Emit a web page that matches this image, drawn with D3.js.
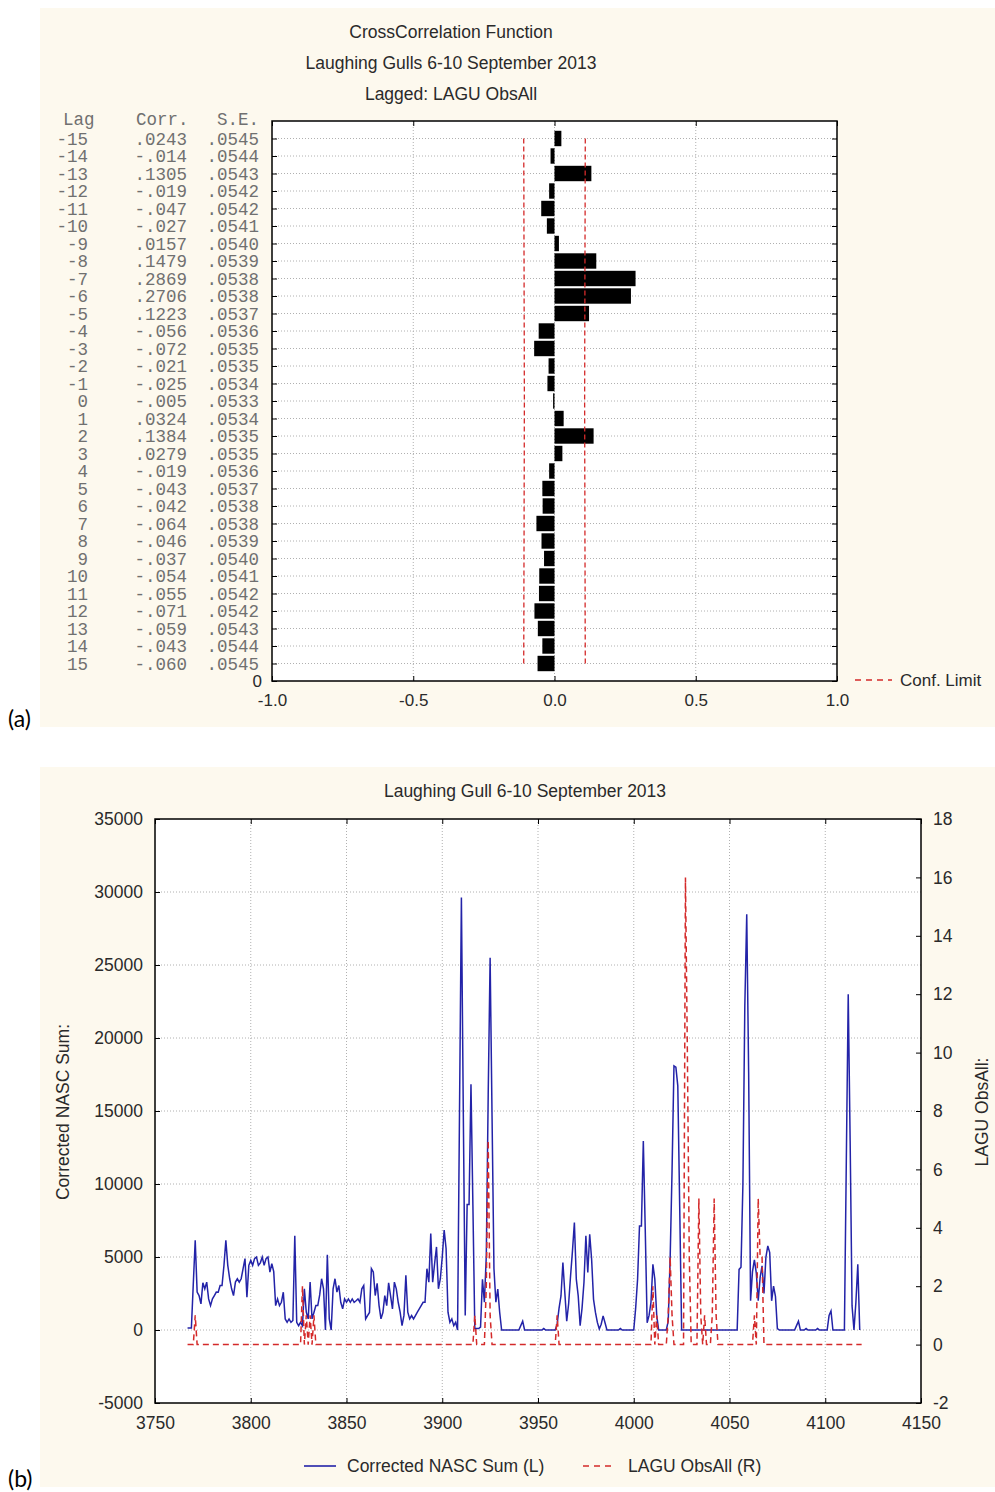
<!DOCTYPE html>
<html>
<head>
<meta charset="utf-8">
<script src="https://cdn.jsdelivr.net/npm/d3@7"></script>
<style>
body { margin: 0; background: #fff; }
svg text { font-family: "Liberation Sans", Arial, sans-serif; fill: #2a2a2a; }
.tbl { font-family: "Liberation Mono", "Courier New", monospace; fill: #707070; }
.tag { font-family: Lato, "Open Sans", sans-serif; fill: #000; }
</style>
</head>
<body>
<div class="canvas"></div>
<script>
// ---- panel (a): cross correlation table ----
const lags = [-15, -14, -13, -12, -11, -10, -9, -8, -7, -6, -5, -4, -3, -2, -1, 0,
    1, 2, 3, 4, 5, 6, 7, 8, 9, 10, 11, 12, 13, 14, 15]
const corr = [0.0243, -0.014, 0.1305, -0.019, -0.047, -0.027, 0.0157, 0.1479, 0.2869, 0.2706,
    0.1223, -0.056, -0.072, -0.021, -0.025, -0.005, 0.0324, 0.1384, 0.0279, -0.019,
    -0.043, -0.042, -0.064, -0.046, -0.037, -0.054, -0.055, -0.071, -0.059, -0.043, -0.060]
const stdErr = [0.0545, 0.0544, 0.0543, 0.0542, 0.0542, 0.0541, 0.0540, 0.0539, 0.0538, 0.0538,
    0.0537, 0.0536, 0.0535, 0.0535, 0.0534, 0.0533, 0.0534, 0.0535, 0.0535, 0.0536,
    0.0537, 0.0538, 0.0538, 0.0539, 0.0540, 0.0541, 0.0542, 0.0542, 0.0543, 0.0544, 0.0545]
const corrTicks = [-1, -0.5, 0, 0.5, 1]

// ---- panel (b): time series ----
const dayTicks = [3750, 3800, 3850, 3900, 3950, 4000, 4050, 4100, 4150]
const nascTicks = [-5000, 0, 5000, 10000, 15000, 20000, 25000, 30000, 35000]
const obsTicks = [-2, 0, 2, 4, 6, 8, 10, 12, 14, 16, 18]

// Corrected NASC Sum, one value per unit starting at 3767
const nascStart = 3767
const nascSum = [
    140, 140, 140,
    3170, 6150, 2600, 2360, 1790, 3230, 2820, 3280, 2130, 1670,      // 3770
    2130, 2360, 2600, 2590, 3050, 3050, 4400, 6150, 4430, 3510,      // 3780
    2820, 2360, 3280, 3510, 3280, 3510, 4200, 4890, 2250, 4430,      // 3790
    4770, 4430, 4890, 5000, 4430, 4600, 5000, 4430, 4890, 5000,      // 3800
    3970, 4540, 4000, 1670, 2130, 1670, 1900, 2590, 760, 530,        // 3810
    760, 530, 650, 6450, 530, 300, 530, 300, 2820, 1220,             // 3820
    760, 3280, 760, 1200, 1670, 1670, 2400, 3510, 2820, 0,           // 3830
    5160, 760, 0, 2820, 3510, 2600, 3050, 1900, 1450, 2130,          // 3840
    1900, 2130, 1900, 2130, 1900, 2000, 2130, 1900, 2820, 3050,      // 3850
    760, 990, 1200, 4200, 3970, 2360, 3200, 1670, 760, 1200,         // 3860
    2360, 1670, 3230, 2360, 1440, 3280, 2820, 1900, 1220, 300,       // 3870
    1000, 3740, 1220, 760, 990, 760, 990, 1220, 1440, 1670,          // 3880
    1900, 1900, 4200, 3280, 6600, 3280, 4540, 5690, 2820, 3510,      // 3890
    5000, 6840, 5580, 1220, 530, 760, 300, 530, 0, 14780,            // 3900
    29620, 14800, 1000, 8600, 8600, 16830, 8600, 100, 100, 100,      // 3910
    200, 3480, 1900, 5080, 16150, 25500, 14660, 4200, 1900, 2800,    // 3920
    1200, 0, 0, 0, 0, 0, 0, 0, 0, 0,                                 // 3930
    0, 300, 600, 0, 0, 0, 0, 0, 0, 0,                                // 3940
    0, 0, 0, 100, 0, 0, 0, 0, 0, 0,                                  // 3950
    400, 1500, 2330, 4620, 2570, 600, 1800, 3700, 5420, 7360,        // 3960
    3480, 2340, 290, 1500, 3250, 6450, 3940, 6560, 4850, 2100,       // 3970
    1200, 520, 70, 400, 970, 500, 0, 0, 0, 0,                        // 3980
    0, 0, 0, 100, 0, 0, 0, 0, 0, 0,                                  // 3990
    0, 1500, 3480, 7130, 7130, 12950, 6900, 500, 1000, 1900,         // 4000
    4500, 3480, 1000, 0, 0, 0, 0, 0, 600, 4850,                      // 4010
    10900, 18090, 18000, 16720, 8400, 0, 0, 0, 0, 0,                 // 4020
    0, 0, 0, 0, 0, 0, 0, 0, 0, 0,                                    // 4030
    0, 0, 0, 0, 0, 0, 0, 0, 0, 0,                                    // 4040
    0, 0, 0, 0, 0, 4150, 4300, 9970, 22200, 28480,                   // 4050
    17640, 2000, 4000, 4800, 3900, 2000, 3600, 4400, 2500, 4970,     // 4060
    5760, 5300, 2000, 3000, 2300, 100, 0, 0, 0, 0,                   // 4070
    0, 0, 0, 0, 0, 300, 600, 0, 0, 0,                                // 4080
    100, 0, 0, 0, 0, 0, 100, 0, 0, 0,                                // 4090
    0, 0, 1000, 1300, 0, 0, 0, 0, 0, 0,                              // 4100
    0, 11580, 23000, 12950, 1650, 0, 1900, 4500, 0                   // 4110
]

// LAGU ObsAll (counts), only the points where it changes
const obsDay = [3767, 3770, 3771, 3772, 3826, 3827, 3828, 3829, 3830, 3831, 3832, 3833, 3834,
    3916, 3917, 3918, 3922, 3923, 3924, 3925, 3926, 3959, 3960, 3961,
    4009, 4010, 4011, 4012, 4013, 4017, 4018, 4019, 4020, 4021,
    4026, 4027, 4028, 4029, 4030, 4033, 4034, 4035, 4036, 4037, 4038,
    4040, 4041, 4042, 4043, 4044, 4062, 4063, 4064, 4065, 4066, 4067, 4068, 4119]
const obsCount = [0, 0, 1, 0, 0, 2, 0, 1, 0, 1, 0, 1, 0,
    0, 1, 0, 0, 2, 7, 1, 0, 0, 1, 0,
    0, 2, 0, 1, 0, 0, 1, 3, 1, 0,
    0, 16, 10, 3, 0, 0, 5, 1, 0, 1, 0,
    0, 1, 5, 1, 0, 0, 1, 0, 5, 3, 3, 0, 0]

const cream = '#fdf9ee'
const blue = '#2323a8'
const red = '#d42a2a'

const svg = d3.select('.canvas')
    .append('svg')
    .attr('width', 995)
    .attr('height', 1492)

// ================= panel (a) =================
svg.append('rect').attr('x', 40).attr('y', 8).attr('width', 955).attr('height', 719).attr('fill', cream)

const ccf = {left: 272, right: 837, top: 121, bottom: 681}
const x = d3.scaleLinear().domain([-1, 1]).range([ccf.left, ccf.right])
const y = d3.scaleLinear().domain([0, 32]).range([ccf.bottom, ccf.top])
const rowPos = lag => 16 - lag

const graphA = svg.append('g')
graphA.append('rect')
    .attr('x', ccf.left).attr('y', ccf.top)
    .attr('width', ccf.right - ccf.left).attr('height', ccf.bottom - ccf.top)
    .attr('fill', '#fff')

// dotted grid
graphA.selectAll('.hgrid')
    .data(lags)
    .enter().append('line')
    .attr('x1', ccf.left).attr('x2', ccf.right)
    .attr('y1', d => y(rowPos(d))).attr('y2', d => y(rowPos(d)))
    .attr('stroke', '#b0b0b0').attr('stroke-dasharray', '1,2')
graphA.selectAll('.vgrid')
    .data(corrTicks.slice(1, -1))
    .enter().append('line')
    .attr('y1', ccf.top).attr('y2', ccf.bottom)
    .attr('x1', d => x(d)).attr('x2', d => x(d))
    .attr('stroke', '#b0b0b0').attr('stroke-dasharray', '1,2')

// bars
const barH = (y(0) - y(1)) * 0.88
graphA.selectAll('.bar')
    .data(lags)
    .enter().append('rect')
    .attr('x', (d, i) => x(Math.min(0, corr[i])))
    .attr('width', (d, i) => Math.abs(x(corr[i]) - x(0)))
    .attr('y', d => y(rowPos(d)) - barH / 2)
    .attr('height', barH)
    .attr('fill', '#000')

// confidence limits (2 x S.E.)
const limit = sign => d3.line()
    .x((d, i) => x(sign * 2 * stdErr[i]))
    .y(d => y(rowPos(d)))
graphA.append('path').attr('d', limit(1)(lags))
    .attr('fill', 'none').attr('stroke', red).attr('stroke-width', 1.3).attr('stroke-dasharray', '5,3')
graphA.append('path').attr('d', limit(-1)(lags))
    .attr('fill', 'none').attr('stroke', red).attr('stroke-width', 1.3).attr('stroke-dasharray', '5,3')

// axes (ticks inward)
const rowTicks = [0].concat(lags.map(rowPos))
const axA = [
    graphA.append('g').attr('transform', `translate(0, ${ccf.bottom})`)
        .call(d3.axisBottom(x).tickValues(corrTicks).tickFormat(d => d.toFixed(1)).tickSize(-5).tickSizeOuter(0).tickPadding(13)),
    graphA.append('g').attr('transform', `translate(0, ${ccf.top})`)
        .call(d3.axisTop(x).tickValues(corrTicks).tickFormat('').tickSize(-5).tickSizeOuter(0)),
    graphA.append('g').attr('transform', `translate(${ccf.left}, 0)`)
        .call(d3.axisLeft(y).tickValues(rowTicks).tickFormat(d => d === 0 ? '0' : '').tickSize(-5).tickSizeOuter(0).tickPadding(10)),
    graphA.append('g').attr('transform', `translate(${ccf.right}, 0)`)
        .call(d3.axisRight(y).tickValues(rowTicks).tickFormat('').tickSize(-5).tickSizeOuter(0))
]
axA.forEach(g => {
    g.select('.domain').remove()
    g.selectAll('text').attr('font-size', 17).attr('font-family', null)
})

graphA.append('rect')
    .attr('x', ccf.left).attr('y', ccf.top)
    .attr('width', ccf.right - ccf.left).attr('height', ccf.bottom - ccf.top)
    .attr('fill', 'none').attr('stroke', '#000').attr('stroke-width', 1.5)

// titles
const titlesA = ['CrossCorrelation Function', 'Laughing Gulls 6-10 September 2013', 'Lagged: LAGU ObsAll']
svg.selectAll('.titleA')
    .data(titlesA)
    .enter().append('text')
    .attr('x', 451).attr('y', (d, i) => 38 + i * 31)
    .attr('text-anchor', 'middle').attr('font-size', 17.5)
    .text(d => d)

// lag / corr / s.e. table
const fmtCorr = v => v < 0 ? '-' + v.toFixed(3).replace('-0', '') : v.toFixed(4).replace(/^0/, '')
const fmtSe = v => v.toFixed(4).replace(/^0/, '')
const tbl = svg.append('g').attr('class', 'tbl').attr('font-size', 17.5)
tbl.append('text').attr('class', 'tbl').attr('x', 63).attr('y', 125).text('Lag')
tbl.append('text').attr('class', 'tbl').attr('x', 136).attr('y', 125).text('Corr.')
tbl.append('text').attr('class', 'tbl').attr('x', 259).attr('y', 125).attr('text-anchor', 'end').text('S.E.')
lags.forEach((l, i) => {
    const yy = y(rowPos(l)) + 6
    tbl.append('text').attr('class', 'tbl').attr('x', 88).attr('y', yy).attr('text-anchor', 'end').text(l)
    tbl.append('text').attr('class', 'tbl').attr('x', 187).attr('y', yy).attr('text-anchor', 'end').text(fmtCorr(corr[i]))
    tbl.append('text').attr('class', 'tbl').attr('x', 259).attr('y', yy).attr('text-anchor', 'end').text(fmtSe(stdErr[i]))
})

// legend
svg.append('line').attr('x1', 855).attr('x2', 892).attr('y1', 680).attr('y2', 680)
    .attr('stroke', red).attr('stroke-width', 1.3).attr('stroke-dasharray', '6,5')
svg.append('text').attr('x', 900).attr('y', 686).attr('font-size', 17).text('Conf. Limit')

svg.append('text').attr('class', 'tag').attr('x', 8).attr('y', 727).attr('font-size', 23).text('(a)')

// ================= panel (b) =================
svg.append('rect').attr('x', 40).attr('y', 767).attr('width', 955).attr('height', 720).attr('fill', cream)

const ts = {left: 155, right: 921, top: 819, bottom: 1403}
const bx = d3.scaleLinear().domain([3750, 4150]).range([ts.left, ts.right])
const byL = d3.scaleLinear().domain([-5000, 35000]).range([ts.bottom, ts.top])
const byR = d3.scaleLinear().domain([-2, 18]).range([ts.bottom, ts.top])

const graphB = svg.append('g')
graphB.append('rect')
    .attr('x', ts.left).attr('y', ts.top)
    .attr('width', ts.right - ts.left).attr('height', ts.bottom - ts.top)
    .attr('fill', '#fff')

graphB.selectAll('.vgrid')
    .data(dayTicks.slice(1, -1))
    .enter().append('line')
    .attr('y1', ts.top).attr('y2', ts.bottom)
    .attr('x1', d => bx(d)).attr('x2', d => bx(d))
    .attr('stroke', '#b0b0b0').attr('stroke-dasharray', '1,2')
graphB.selectAll('.hgrid')
    .data(nascTicks.slice(1, -1))
    .enter().append('line')
    .attr('x1', ts.left).attr('x2', ts.right)
    .attr('y1', d => byL(d)).attr('y2', d => byL(d))
    .attr('stroke', '#b0b0b0').attr('stroke-dasharray', '1,2')

// series
const nascLine = d3.line()
    .x((d, i) => bx(nascStart + i))
    .y(d => byL(d))
graphB.append('path').attr('d', nascLine(nascSum))
    .attr('fill', 'none').attr('stroke', blue).attr('stroke-width', 1.5).attr('stroke-linejoin', 'miter')

const obsLine = d3.line()
    .x((d, i) => bx(obsDay[i]))
    .y(d => byR(d))
graphB.append('path').attr('d', obsLine(obsCount))
    .attr('fill', 'none').attr('stroke', red).attr('stroke-width', 1.5).attr('stroke-dasharray', '6,4')

const axB = [
    graphB.append('g').attr('transform', `translate(0, ${ts.bottom})`)
        .call(d3.axisBottom(bx).tickValues(dayTicks).tickFormat(d => d).tickSize(-5).tickSizeOuter(0).tickPadding(14)),
    graphB.append('g').attr('transform', `translate(0, ${ts.top})`)
        .call(d3.axisTop(bx).tickValues(dayTicks).tickFormat('').tickSize(-5).tickSizeOuter(0)),
    graphB.append('g').attr('transform', `translate(${ts.left}, 0)`)
        .call(d3.axisLeft(byL).tickValues(nascTicks).tickFormat(d => d).tickSize(-5).tickSizeOuter(0).tickPadding(12)),
    graphB.append('g').attr('transform', `translate(${ts.right}, 0)`)
        .call(d3.axisRight(byR).tickValues(obsTicks).tickFormat(d => d).tickSize(-5).tickSizeOuter(0).tickPadding(12))
]
axB.forEach(g => {
    g.select('.domain').remove()
    g.selectAll('text').attr('font-size', 17.5).attr('font-family', null)
})

graphB.append('rect')
    .attr('x', ts.left).attr('y', ts.top)
    .attr('width', ts.right - ts.left).attr('height', ts.bottom - ts.top)
    .attr('fill', 'none').attr('stroke', '#000').attr('stroke-width', 1.5)

svg.append('text').attr('x', 525).attr('y', 797).attr('text-anchor', 'middle').attr('font-size', 17.5)
    .text('Laughing Gull 6-10 September 2013')
svg.append('text').attr('transform', 'translate(69, 1112) rotate(-90)').attr('text-anchor', 'middle')
    .attr('font-size', 17.5).text('Corrected NASC Sum:')
svg.append('text').attr('transform', 'translate(988, 1112) rotate(-90)').attr('text-anchor', 'middle')
    .attr('font-size', 17.5).text('LAGU ObsAll:')

// legend
svg.append('line').attr('x1', 304).attr('x2', 336).attr('y1', 1466).attr('y2', 1466)
    .attr('stroke', blue).attr('stroke-width', 1.6)
svg.append('text').attr('x', 347).attr('y', 1472).attr('font-size', 17.5).text('Corrected NASC Sum (L)')
svg.append('line').attr('x1', 583).attr('x2', 614).attr('y1', 1466).attr('y2', 1466)
    .attr('stroke', red).attr('stroke-width', 1.4).attr('stroke-dasharray', '6,5')
svg.append('text').attr('x', 628).attr('y', 1472).attr('font-size', 17.5).text('LAGU ObsAll (R)')

svg.append('text').attr('class', 'tag').attr('x', 8).attr('y', 1487).attr('font-size', 23).text('(b)')
</script>
</body>
</html>
